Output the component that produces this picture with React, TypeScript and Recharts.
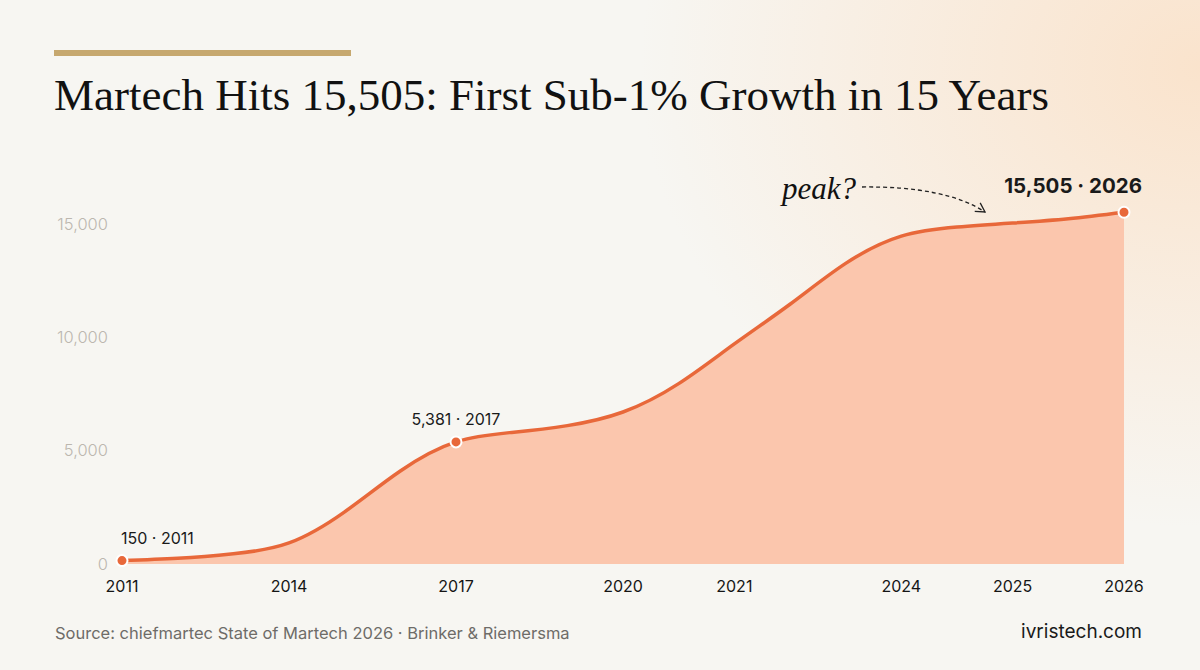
import React from "react";
import { AreaChart, Area, XAxis, YAxis } from "recharts";

// one entry per step along the timeline; blank = no tick label
const stepYears = ["2011", "", "", "2014", "", "", "2017", "", "", "2020", "", "2021", "", "", "2024", "", "2025", "", "2026"];
const toolCounts = [150, 250, 450, 930, 2300, 4100, 5381, 5800, 6100, 6700, 7950, 9700, 11450, 13250, 14450, 14850, 15030, 15220, 15505];
const calloutYears = ["2011", "2017", "2026"];
const yTicks = [0, 5000, 10000, 15000];

const data = toolCounts.map((count, i) => ({ step: i, year: stepYears[i], count }));
const xTicks = stepYears.map((y, i) => (y ? i : -1)).filter((i) => i >= 0);

const ORANGE = "#e8683a";
const SANS = "Inter, 'Noto Sans', sans-serif";
const SERIF = "'Liberation Serif', 'DejaVu Serif', serif";

const renderDot = (props: any) => {
  const { cx, cy, index, payload } = props;
  const pos = calloutYears.indexOf(payload.year);
  if (pos < 0) return <g key={`d-${index}`} />;
  const text = `${payload.count.toLocaleString("en-US")} · ${payload.year}`;
  const isLast = pos === calloutYears.length - 1;
  const anchor = pos === 0 ? "start" : isLast ? "end" : "middle";
  const dx = pos === 0 ? -1 : isLast ? 18 : 0;
  return (
    <g key={`d-${index}`}>
      <circle cx={cx} cy={cy} r={5.5} fill={ORANGE} stroke="#fff" strokeWidth={2} />
      <text
        x={cx + dx}
        y={cy + (isLast ? -19 : -17)}
        textAnchor={anchor}
        fontFamily={SANS}
        fontSize={isLast ? 20.5 : 16}
        fontWeight={isLast ? 700 : 400}
        fill="#1a1a1a"
      >
        {text}
      </text>
    </g>
  );
};

export default function App() {
  return (
    <div
      style={{
        position: "absolute",
        left: 0,
        top: 0,
        width: 1200,
        height: 670,
        overflow: "hidden",
        background:
          "radial-gradient(ellipse 560px 460px at 100% 10%, rgba(251,221,192,0.75), rgba(247,246,242,0) 100%), #f7f6f2",
      }}
    >
      <div style={{ position: "absolute", left: 54, top: 50, width: 297, height: 6, background: "#c6a86f" }} />
      <div
        style={{
          position: "absolute",
          left: 54,
          top: 68,
          fontFamily: SERIF,
          fontSize: 45,
          lineHeight: "54px",
          color: "#111",
          whiteSpace: "nowrap",
        }}
      >
        Martech Hits 15,505: First Sub-1% Growth in 15 Years
      </div>

      <div style={{ position: "absolute", left: 0, top: 0 }}>
        <AreaChart width={1200} height={620} data={data} margin={{ top: 201, right: 76, bottom: 16, left: 22 }}>
          <XAxis
            type="number"
            dataKey="step"
            domain={[0, stepYears.length - 1]}
            ticks={xTicks}
            tickFormatter={(s: number) => stepYears[s]}
            axisLine={false}
            tickLine={false}
            tickSize={0}
            tickMargin={17}
            height={40}
            tick={{ fill: "#151515", fontSize: 16, fontFamily: SANS }}
          />
          <YAxis
            domain={[0, 16000]}
            ticks={yTicks}
            tickFormatter={(v: number) => v.toLocaleString("en-US")}
            axisLine={false}
            tickLine={false}
            tickSize={0}
            tickMargin={14}
            width={100}
            tick={{ fill: "#bcb7af", fontSize: 16.5, fontFamily: SANS, fontWeight: 300 }}
          />
          <Area
            type="natural"
            dataKey="count"
            stroke={ORANGE}
            strokeWidth={3.5}
            fill="#fbc6ad"
            fillOpacity={1}
            dot={renderDot}
            activeDot={false}
            isAnimationActive={false}
          />
        </AreaChart>
      </div>

      <svg width={1200} height={670} style={{ position: "absolute", left: 0, top: 0, pointerEvents: "none" }}>
        <defs>
          <marker id="arr" markerWidth="12" markerHeight="12" refX="10" refY="6" orient="auto" markerUnits="userSpaceOnUse">
            <path d="M 1 1 L 10 6 L 1 11" fill="none" stroke="#222" strokeWidth={1.3} />
          </marker>
        </defs>
        <text x={782} y={199} fontFamily={SERIF} fontStyle="italic" fontSize={31} fill="#111">
          peak?
        </text>
        <path
          d="M 862 187 Q 945 186 985 212"
          fill="none"
          stroke="#222"
          strokeWidth={1.3}
          strokeDasharray="4 3"
          markerEnd="url(#arr)"
        />
      </svg>

      <div
        style={{
          position: "absolute",
          left: 55,
          top: 623,
          fontFamily: SANS,
          fontSize: 16.5,
          color: "#6e6c68",
          whiteSpace: "nowrap",
        }}
      >
        Source: chiefmartec State of Martech 2026 · Brinker &amp; Riemersma
      </div>
      <div
        style={{
          position: "absolute",
          right: 58,
          top: 620,
          fontFamily: SANS,
          fontSize: 19,
          color: "#1a1a1a",
          whiteSpace: "nowrap",
        }}
      >
        ivristech.com
      </div>
    </div>
  );
}
